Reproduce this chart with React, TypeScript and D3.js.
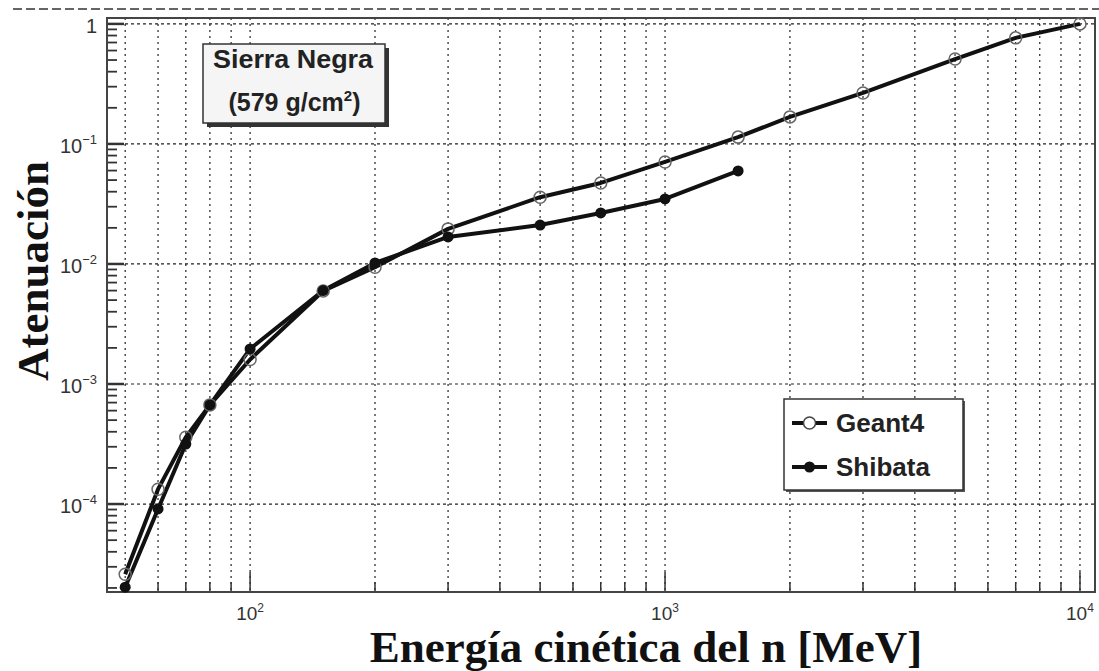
import React from "react";
import * as d3 from "d3";

const energies = [50, 60, 70, 80, 100, 150, 200, 300, 500, 700, 1000, 1500, 2000, 3000, 5000, 7000, 10000];
const geant4 = [2.6e-5, 1.33e-4, 3.6e-4, 6.7e-4, 1.6e-3, 5.96e-3, 9.4e-3, 1.96e-2, 3.6e-2, 4.73e-2, 7.08e-2, 0.114, 0.168, 0.266, 0.51, 0.765, 1.0];
const shibataE = [50, 60, 70, 80, 100, 150, 200, 300, 500, 700, 1000, 1500];
const shibata = [2.03e-5, 9.1e-5, 3.16e-4, 6.7e-4, 1.96e-3, 6.0e-3, 1.02e-2, 1.68e-2, 2.11e-2, 2.66e-2, 3.48e-2, 5.96e-2];

const xMajor = [100, 1000, 10000];
const xMajorExp = ["2", "3", "4"];
const yMajor = [1, 0.1, 0.01, 0.001, 0.0001];
const yMajorExp = ["", "−1", "−2", "−3", "−4"];

const titleLines = ["Sierra Negra", "(579 g/cm", "2", ")"];
const legendLabels = ["Geant4", "Shibata"];
const yTitle = "Atenuación";
const xTitle = "Energía cinética del n [MeV]";

const W = 1099, H = 671;
const L = 107, R = 1095, T = 18, B = 592;

export default function App() {
  const x = d3.scaleLog().domain([45.2, 10870]).range([L, R]);
  const y = d3.scaleLog().domain([1.12, 1.85e-5]).range([T, B]);

  const xMinor: number[] = [];
  for (let d = 10; d <= 10000; d *= 10) {
    for (let k = 1; k <= 9; k++) {
      const v = d * k;
      if (v >= 45.2 && v <= 10870) xMinor.push(v);
    }
  }
  const yMinor: number[] = [];
  for (let d = 1e-5; d <= 1; d *= 10) {
    for (let k = 1; k <= 9; k++) {
      const v = d * k;
      if (v >= 1.85e-5 && v <= 1.12) yMinor.push(v);
    }
  }

  const line = d3.line<[number, number]>().x((d) => x(d[0])).y((d) => y(d[1]));
  const gData: [number, number][] = energies.map((e, i) => [e, geant4[i]]);
  const sData: [number, number][] = shibataE.map((e, i) => [e, shibata[i]]);

  const sans = "'Liberation Sans', Arial, Helvetica, sans-serif";
  const serif = "'Liberation Serif', 'Times New Roman', serif";

  return (
    <svg width={W} height={H} style={{ position: "absolute", left: 0, top: 0, background: "#fff" }}>
      <rect x={0} y={0} width={W} height={H} fill="#fff" />
      {/* top dashed line */}
      <line x1={13} x2={W} y1={9} y2={9} stroke="#333" strokeWidth={1.5} strokeDasharray="9,4" />

      {/* vertical grid */}
      {xMinor.map((v, i) => (
        <line key={"vg" + i} x1={x(v)} x2={x(v)} y1={T} y2={B} stroke="#222" strokeWidth={1.2} strokeDasharray="2,4" />
      ))}
      {/* horizontal grid */}
      {yMajor.map((v, i) => (
        <line key={"hg" + i} x1={L} x2={R} y1={y(v)} y2={y(v)} stroke="#222" strokeWidth={1.2} strokeDasharray="3,3" />
      ))}

      {/* y ticks */}
      {yMinor.map((v, i) => {
        const major = yMajor.some((m) => Math.abs(m - v) / m < 1e-6);
        return (
          <line key={"yt" + i} x1={L} x2={L + (major ? 17 : 10)} y1={y(v)} y2={y(v)} stroke="#333" strokeWidth={major ? 2.5 : 1.8} />
        );
      })}
      {/* x ticks */}
      {xMinor.map((v, i) => {
        const major = xMajor.some((m) => Math.abs(m - v) / m < 1e-6);
        return (
          <line key={"xt" + i} x1={x(v)} x2={x(v)} y1={B} y2={B - (major ? 20 : 10)} stroke="#333" strokeWidth={1.5} />
        );
      })}

      {/* frame */}
      <rect x={L} y={T} width={R - L} height={B - T} fill="none" stroke="#444" strokeWidth={2} />

      {/* curves */}
      <path d={line(gData) || ""} fill="none" stroke="#111" strokeWidth={4} strokeLinejoin="round" />
      <path d={line(sData) || ""} fill="none" stroke="#111" strokeWidth={4} strokeLinejoin="round" />
      {gData.map((d, i) => (
        <circle key={"gc" + i} cx={x(d[0])} cy={y(d[1])} r={6} fill="none" stroke="#666" strokeWidth={1.5} />
      ))}
      {sData.map((d, i) => (
        <circle key={"sc" + i} cx={x(d[0])} cy={y(d[1])} r={5.5} fill="#111" />
      ))}

      {/* y tick labels */}
      {yMajor.map((v, i) => (
        <text key={"yl" + i} x={97} y={y(v) + 9} textAnchor="end" fontFamily={sans} fontSize={20} fill="#333">
          {i === 0 ? "1" : (
            <>
              10<tspan dy={-9} fontSize={13}>{yMajorExp[i]}</tspan>
            </>
          )}
        </text>
      ))}
      {/* x tick labels */}
      {xMajor.map((v, i) => (
        <text key={"xl" + i} x={x(v)} y={620} textAnchor="middle" fontFamily={sans} fontSize={19} fill="#333">
          10<tspan dy={-8} fontSize={12}>{xMajorExp[i]}</tspan>
        </text>
      ))}

      {/* title box */}
      <rect x={207} y={48} width={182} height={79} fill="#333" />
      <rect x={203} y={44} width={182} height={79} fill="#f5f5f5" stroke="#333" strokeWidth={1.5} />
      <text x={213} y={68} fontFamily={sans} fontWeight="bold" fontSize={25} fill="#222" textLength={160} lengthAdjust="spacingAndGlyphs">
        {titleLines[0]}
      </text>
      <text x={294.5} y={111} textAnchor="middle" fontFamily={sans} fontWeight="bold" fontSize={25} fill="#222">
        {titleLines[1]}
        <tspan dy={-10} fontSize={15}>{titleLines[2]}</tspan>
        <tspan dy={10}>{titleLines[3]}</tspan>
      </text>

      {/* legend */}
      <rect x={786} y={401} width={179} height={91} fill="#555" />
      <rect x={784} y={399} width={179} height={91} fill="#fff" stroke="#333" strokeWidth={1.5} />
      <line x1={792} x2={827} y1={423} y2={423} stroke="#111" strokeWidth={4} />
      <circle cx={809.5} cy={423} r={6} fill="#fff" stroke="#444" strokeWidth={1.5} />
      <line x1={792} x2={827} y1={467} y2={467} stroke="#111" strokeWidth={4} />
      <circle cx={809.5} cy={467} r={5.5} fill="#111" />
      <text x={836} y={432} fontFamily={sans} fontWeight="bold" fontSize={26} fill="#222">{legendLabels[0]}</text>
      <text x={836} y={476} fontFamily={sans} fontWeight="bold" fontSize={26} fill="#222">{legendLabels[1]}</text>

      {/* axis titles */}
      <text transform={`translate(48, ${(T + B) / 2 - 34}) rotate(-90)`} textAnchor="middle" fontFamily={serif} fontWeight="bold" fontSize={45} fill="#111">
        {yTitle}
      </text>
      <text x={646} y={662} textAnchor="middle" fontFamily={serif} fontWeight="bold" fontSize={45} fill="#111">
        {xTitle}
      </text>
    </svg>
  );
}
